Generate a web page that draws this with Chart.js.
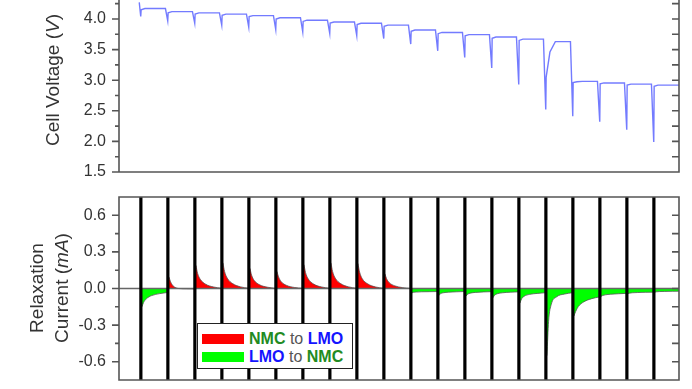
<!DOCTYPE html>
<html>
<head>
<meta charset="utf-8">
<script src="https://cdn.jsdelivr.net/npm/chart.js@4.4.1/dist/chart.umd.min.js"></script>
<style>
body{margin:0;background:#fff;width:692px;height:389px;overflow:hidden;position:relative;font-family:"Liberation Sans",Arial,sans-serif}
#topBox{position:absolute;left:0;top:0;width:692px;height:185px}
#botBox{position:absolute;left:0;top:185px;width:692px;height:204px}
.ytitle{position:absolute;transform:translate(-50%,-50%) rotate(-90deg);white-space:nowrap;font-size:19px;color:#333;text-align:center;line-height:25px}
#legend{position:absolute;left:197px;top:323px;width:154px;height:44px;border:1.5px solid #222;background:#fff;font-size:16px}
#legend .row{position:absolute;left:0;height:18px;line-height:18px;white-space:nowrap}
#legend .sw{position:absolute;left:4px;top:4px;width:42px;height:10px}
#legend .txt{position:absolute;left:51px;top:0}
.g{color:#228b22;font-weight:bold}
.b{color:#1414ff;font-weight:bold}
.to{color:#555}
</style>
</head>
<body>
<div id="topBox"><canvas id="vChart" width="692" height="185"></canvas></div>
<div id="botBox"><canvas id="iChart" width="692" height="204"></canvas></div>
<div class="ytitle" style="left:52px;top:80px">Cell Voltage (<i>V</i>)</div>
<div class="ytitle" style="left:49px;top:288px">Relaxation<br>Current (<i>mA</i>)</div>
<div id="legend">
  <div class="row" style="top:6px"><span class="sw" style="background:#ff0000"></span><span class="txt"><span class="g">NMC</span> <span class="to">to</span> <span class="b">LMO</span></span></div>
  <div class="row" style="top:24px"><span class="sw" style="background:#00ff00"></span><span class="txt"><span class="b">LMO</span> <span class="to">to</span> <span class="g">NMC</span></span></div>
</div>
<script>
// PULSES (one every step on the time axis)
const pulseAt=[0,1,2,3,4,5,6,7,8,9,10,11,12,13,14,15,16,17,18,19];
const xMin=-0.81, xMax=19.93;

// CELL VOLTAGE (V)
const startVoltage=4.27;
const dipV=[4.04,3.97,3.93,3.90,3.87,3.83,3.79,3.765,3.73,3.68,3.59,3.48,3.37,3.20,2.93,2.52,2.41,2.32,2.19,1.99];
const reboundV=[4.15,4.10,4.08,4.06,4.04,4.00,3.96,3.935,3.91,3.88,3.80,3.76,3.725,3.685,3.65,3.05,2.96,2.94,2.92,2.90];
const settleV=[4.17,4.12,4.10,4.08,4.055,4.02,3.98,3.95,3.93,3.90,3.82,3.78,3.745,3.705,3.67,3.46,2.975,2.955,2.935,2.92];
const plateauV=[4.17,4.12,4.10,4.08,4.055,4.02,3.98,3.95,3.93,3.90,3.82,3.78,3.745,3.705,3.67,3.63,2.98,2.955,2.935,2.92];
const voltMajor=[1.5,2.0,2.5,3.0,3.5,4.0];
const voltMinor=[1.75,2.25,2.75,3.25,3.75,4.25];

// RELAXATION CURRENT (mA), sampled at these fractions of each rest
const relaxFrac=[0.04,0.1,0.2,0.4,0.7,0.97];
const relaxCurrent=[
  [-0.15,-0.115,-0.085,-0.058,-0.042,-0.033],
  [0.095,0.055,0.02,0.0,-0.003,-0.004],
  [0.19,0.125,0.075,0.035,0.012,0.003],
  [0.21,0.14,0.085,0.04,0.013,0.003],
  [0.165,0.11,0.065,0.03,0.01,0.002],
  [0.14,0.095,0.055,0.025,0.008,0.002],
  [0.195,0.13,0.078,0.036,0.012,0.003],
  [0.21,0.14,0.085,0.04,0.013,0.003],
  [0.205,0.135,0.08,0.038,0.012,0.003],
  [0.12,0.08,0.048,0.022,0.007,0.001],
  [-0.035,-0.031,-0.029,-0.027,-0.026,-0.025],
  [-0.057,-0.042,-0.035,-0.03,-0.027,-0.025],
  [-0.063,-0.047,-0.038,-0.032,-0.028,-0.026],
  [-0.076,-0.055,-0.043,-0.035,-0.03,-0.028],
  [-0.12,-0.085,-0.063,-0.048,-0.04,-0.035],
  [-0.55,-0.27,-0.13,-0.068,-0.045,-0.035],
  [-0.226,-0.19,-0.148,-0.11,-0.083,-0.07],
  [-0.065,-0.058,-0.052,-0.047,-0.043,-0.04],
  [-0.042,-0.038,-0.035,-0.033,-0.031,-0.03],
  [-0.03,-0.027,-0.025,-0.024,-0.023,-0.022]
];
const curMajor=[-0.6,-0.3,0,0.3,0.6];
const curMinor=[-0.45,-0.15,0.15,0.45];

const FONT='"Liberation Sans",Arial,sans-serif';

// build point lists
const vPoints=[{x:-0.06,y:startVoltage}];
pulseAt.forEach((t,k)=>{
  if(k>0) vPoints.push({x:t-0.09,y:plateauV[k-1]});
  vPoints.push({x:t-0.005,y:dipV[k]});
  vPoints.push({x:t+0.01,y:reboundV[k]});
  vPoints.push({x:t+0.15,y:settleV[k]});
  vPoints.push({x:t+0.35,y:plateauV[k]});
});
vPoints.push({x:xMax,y:plateauV[plateauV.length-1]});

const iPoints=[];
pulseAt.forEach((t,k)=>{
  relaxFrac.forEach((f,j)=>iPoints.push({x:t+f,y:relaxCurrent[k][j]}));
  iPoints.push({x:t+0.985,y:null});
});
const spikes=[];
pulseAt.forEach(t=>{spikes.push({x:t,y:-1},{x:t,y:1},{x:t+0.5,y:null})});

// axes frame + ticks (left outward, right inward)
const frame={
  id:'frame',
  beforeDatasetDraw(chart,args,opts){
    if(!opts.zero||args.index!==0) return;
    const {ctx,chartArea:a,scales:{y}}=chart;
    const p=y.getPixelForValue(0);
    ctx.save();ctx.strokeStyle='#666';ctx.lineWidth=1.3;
    ctx.beginPath();ctx.moveTo(a.left,p);ctx.lineTo(a.right,p);ctx.stroke();ctx.restore();
  },
  afterDraw(chart,args,opts){
    const {ctx,chartArea:a,scales:{y}}=chart;
    ctx.save();
    ctx.strokeStyle='#555';ctx.lineWidth=1.6;
    ctx.beginPath();
    if(opts.box){ctx.rect(a.left,a.top,a.right-a.left,a.bottom-a.top)}
    else{ctx.moveTo(a.left,a.top);ctx.lineTo(a.left,a.bottom);ctx.lineTo(a.right,a.bottom);ctx.lineTo(a.right,a.top)}
    opts.major.forEach(v=>{const p=y.getPixelForValue(v);ctx.moveTo(a.left-7,p);ctx.lineTo(a.left,p);ctx.moveTo(a.right-7,p);ctx.lineTo(a.right,p)});
    opts.minor.forEach(v=>{const p=y.getPixelForValue(v);ctx.moveTo(a.left-4,p);ctx.lineTo(a.left,p);ctx.moveTo(a.right-7,p);ctx.lineTo(a.right,p)});
    ctx.stroke();
    ctx.restore();
  }
};

function yAxis(min,max,major){
  return {
    min,max,
    afterBuildTicks:s=>{s.ticks=major.map(v=>({value:v}))},
    afterFit:s=>{s.width=119;s.paddingTop=0;s.paddingBottom=0},
    grid:{display:false,drawTicks:false},
    border:{display:false},
    ticks:{padding:13,color:'#333',font:{size:16,family:FONT},callback:v=>Number(v).toFixed(1)}
  };
}

new Chart(document.getElementById('vChart'),{
  type:'line',
  data:{datasets:[{data:vPoints,borderColor:'rgba(90,100,255,0.85)',borderWidth:1.4,pointRadius:0,tension:0,fill:false}]},
  options:{
    responsive:false,animation:false,
    layout:{padding:{left:0,right:13,top:0,bottom:13}},
    plugins:{legend:{display:false},tooltip:{enabled:false},frame:{box:false,major:voltMajor,minor:voltMinor}},
    scales:{x:{type:'linear',min:xMin,max:xMax,display:false},y:yAxis(1.5,4.31,voltMajor)}
  },
  plugins:[frame]
});

new Chart(document.getElementById('iChart'),{
  type:'line',
  data:{datasets:[
    {data:spikes,borderColor:'#000',borderWidth:3.2,pointRadius:0,fill:false,spanGaps:false,borderCapStyle:'butt'},
    {data:iPoints,borderColor:'#555',borderWidth:0.8,pointRadius:0,cubicInterpolationMode:'monotone',spanGaps:false,
     fill:{target:'origin',above:'#ff0000',below:'#00ff00'}}
  ]},
  options:{
    responsive:false,animation:false,
    layout:{padding:{left:0,right:13,top:12,bottom:9}},
    plugins:{legend:{display:false},tooltip:{enabled:false},frame:{box:true,zero:true,major:curMajor,minor:curMinor}},
    scales:{x:{type:'linear',min:xMin,max:xMax,display:false},y:yAxis(-0.75,0.75,curMajor)}
  },
  plugins:[frame]
});
</script>
</body>
</html>
